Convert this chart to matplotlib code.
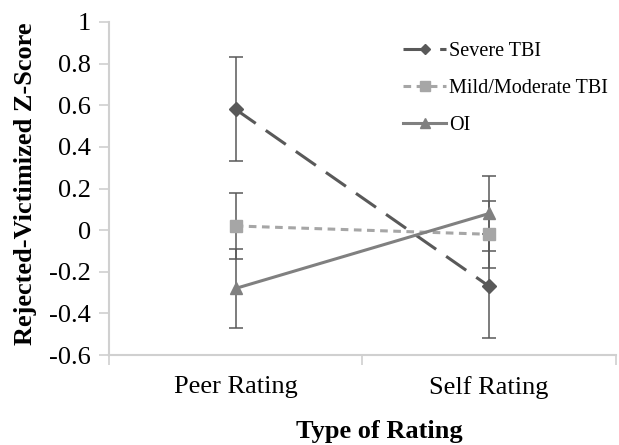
import matplotlib
matplotlib.use("Agg")
import matplotlib.pyplot as plt
from matplotlib.lines import Line2D

categories = ["Peer Rating", "Self Rating"]
severe = [0.58, -0.27]
severe_err = [0.25, 0.25]
mild = [0.02, -0.02]
mild_err = [0.16, 0.16]
oi = [-0.28, 0.08]
oi_err = [0.19, 0.18]
yticks = [-0.6, -0.4, -0.2, 0, 0.2, 0.4, 0.6, 0.8, 1]
ytick_labels = ["-0.6", "-0.4", "-0.2", "0", "0.2", "0.4", "0.6", "0.8", "1"]

plt.rcParams['font.family'] = ['Liberation Serif', 'DejaVu Serif']

fig = plt.figure(figsize=(6.19, 4.45), dpi=100)
ax = fig.add_axes([0.176, 0.2022, 0.819, 0.7484])

x = [0.5, 1.5]
axis_col = "#d0d0d0"
err_col = "#595959"

series = [
    ("Severe TBI", severe, severe_err, "#595959", "D", (0, (8, 4)), 7),
    ("Mild/Moderate TBI", mild, mild_err, "#a6a6a6", "s", (0, (2.5, 1.8)), 9),
    ("OI", oi, oi_err, "#808080", "^", "-", 9),
]

handles = []
for name, vals, errs, col, mk, ls, ms in series:
    ax.errorbar(x, vals, yerr=errs, fmt="none", ecolor=err_col, elinewidth=1.1,
                capsize=5, capthick=1.1, zorder=2)
    ax.plot(x, vals, color=col, linestyle=ls, linewidth=2.2, marker=mk,
            markersize=ms, markerfacecolor=col, markeredgecolor=col, zorder=3)
    handles.append(Line2D([0], [0], color=col, linestyle=ls, linewidth=2.2,
                          marker=mk, markersize=ms * 0.75, markerfacecolor=col,
                          markeredgecolor=col))

ax.set_xlim(0, 2)
ax.set_ylim(-0.6, 1)
ax.set_yticks(yticks)
ax.set_yticklabels(ytick_labels, fontsize=19)
ax.set_xticks([0, 1, 2])
ax.set_xticklabels([])
ax.set_xticks(x, minor=True)
ax.set_xticklabels(categories, minor=True, fontsize=19)
ax.tick_params(axis="x", which="minor", length=0, pad=15)
ax.tick_params(axis="x", which="major", length=7, color=axis_col, width=1.2)
ax.tick_params(axis="y", length=7, color=axis_col, width=1.2, pad=6)

for s in ["top", "right"]:
    ax.spines[s].set_visible(False)
for s in ["left", "bottom"]:
    ax.spines[s].set_color(axis_col)
    ax.spines[s].set_linewidth(1.5)

ax.set_ylabel("Rejected-Victimized Z-Score", fontsize=19, fontweight="bold")
ax.yaxis.set_label_coords(-0.142, 0.515)
ax.set_xlabel("Type of Rating", fontsize=19, fontweight="bold")
ax.xaxis.set_label_coords(0.533, -0.195)

leg = ax.legend(handles, [s[0] for s in series], loc="upper left",
                bbox_to_anchor=(0.545, 0.995), frameon=False, fontsize=14.5,
                handlelength=2.1, handletextpad=0.15, labelspacing=0.9)

fig.savefig("out.png", dpi=100)
